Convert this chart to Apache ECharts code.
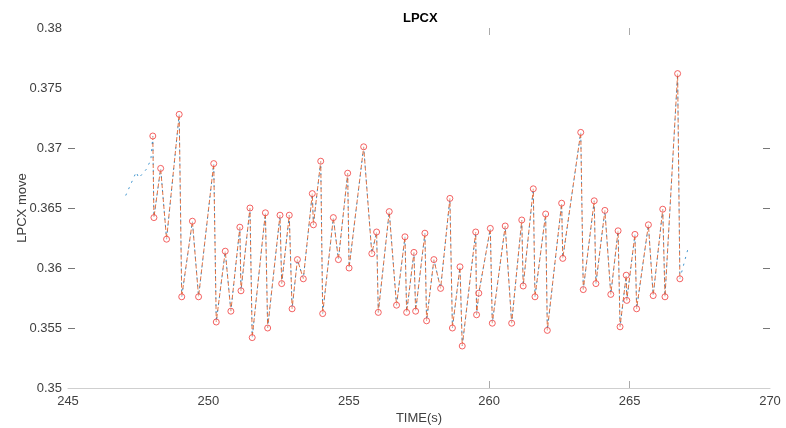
<!DOCTYPE html>
<html>
<head>
<meta charset="utf-8">
<script src="https://cdn.jsdelivr.net/npm/echarts@6/dist/echarts.min.js"></script>
<style>html,body{margin:0;padding:0;background:#fff}#c{width:786px;height:428px}</style>
</head>
<body>
<div id="c"></div>
<script>
// Extremes (marked points) of the LPCX signal
const peakTimes = [248.02,248.06,248.30,248.51,248.96,249.05,249.43,249.65,250.19,250.28,250.60,250.80,251.12,251.16,251.48,251.56,252.03,252.11,252.55,252.61,252.88,252.98,253.17,253.38,253.70,253.74,254.00,254.07,254.45,254.63,254.96,255.01,255.53,255.82,255.99,256.05,256.44,256.70,257.00,257.06,257.32,257.38,257.71,257.77,258.03,258.27,258.60,258.69,258.96,259.04,259.52,259.55,259.63,260.04,260.11,260.57,260.80,261.16,261.21,261.57,261.63,262.01,262.07,262.58,262.62,263.26,263.35,263.74,263.80,264.12,264.33,264.59,264.66,264.88,264.90,265.19,265.25,265.67,265.84,266.18,266.26,266.71,266.79];
const peakValues = [0.3710,0.3642,0.3683,0.3624,0.3728,0.3576,0.3639,0.3576,0.3687,0.3555,0.3614,0.3564,0.3634,0.3581,0.3650,0.3542,0.3646,0.3550,0.3644,0.3587,0.3644,0.3566,0.3607,0.3591,0.3662,0.3636,0.3689,0.3562,0.3642,0.3607,0.3679,0.3600,0.3701,0.3612,0.3630,0.3563,0.3647,0.3569,0.3626,0.3563,0.3613,0.3564,0.3629,0.3556,0.3607,0.3583,0.3658,0.3550,0.3601,0.3535,0.3630,0.3561,0.3579,0.3633,0.3554,0.3635,0.3554,0.3640,0.3585,0.3666,0.3576,0.3645,0.3548,0.3654,0.3608,0.3713,0.3582,0.3656,0.3587,0.3648,0.3578,0.3631,0.3551,0.3594,0.3573,0.3628,0.3566,0.3636,0.3577,0.3649,0.3576,0.3762,0.3591];
// Blue signal lead-in / lead-out (no markers)
const leadInTimes = [246.99,247.20,247.43,247.52,247.78,247.95];
const leadInValues = [0.3657,0.3668,0.3680,0.3675,0.3682,0.3690];
const leadOutTimes = [267.09];
const leadOutValues = [0.3617];
// Axis ticks
const xTicks = [260,265];
const yTicks = [0.355,0.36,0.365,0.37];

const zip = (a,b) => a.map((t,i)=>[t,b[i]]);
const orangeData = zip(peakTimes, peakValues);
const blueData = zip(leadInTimes, leadInValues).concat(orangeData, zip(leadOutTimes, leadOutValues));

const chart = echarts.init(document.getElementById('c'), null, {renderer:'canvas'});
const font = 'Liberation Sans, Arial, Helvetica, sans-serif';
chart.setOption({
  animation:false,
  backgroundColor:'#fff',
  title:{text:'LPCX', left:398, top:7, textStyle:{fontFamily:font, fontSize:13, fontWeight:'bold', color:'#000'}},
  grid:{left:68, right:16, top:28, bottom:40, containLabel:false, outerBoundsMode:'none'},
  xAxis:[{
    type:'value', min:245, max:270, interval:5, position:'bottom',
    name:'TIME(s)', nameLocation:'middle', nameGap:24, nameMoveOverlap:false,
    nameTextStyle:{fontFamily:font, fontSize:13, color:'#404040'},
    axisLine:{show:true, lineStyle:{color:'#cfcfcf', width:1}},
    axisTick:{show:true, inside:true, length:7, customValues:xTicks, lineStyle:{color:'#aaa'}},
    axisLabel:{fontFamily:font, fontSize:13, color:'#404040', margin:7},
    splitLine:{show:false}
  },{
    type:'value', min:245, max:270, interval:5, position:'top',
    axisLine:{show:false},
    axisTick:{show:true, inside:true, length:7, customValues:xTicks, lineStyle:{color:'#aaa'}},
    axisLabel:{show:false}, splitLine:{show:false}
  }],
  yAxis:[{
    type:'value', min:0.35, max:0.38, interval:0.005, position:'left',
    name:'LPCX move', nameLocation:'middle', nameGap:39, nameMoveOverlap:false,
    nameTextStyle:{fontFamily:font, fontSize:13, color:'#404040'},
    axisLine:{show:false},
    axisTick:{show:true, inside:true, length:7, customValues:yTicks, lineStyle:{color:'#777'}},
    axisLabel:{fontFamily:font, fontSize:13, color:'#404040', margin:6},
    splitLine:{show:false}
  },{
    type:'value', min:0.35, max:0.38, interval:0.005, position:'right',
    axisLine:{show:false},
    axisTick:{show:true, inside:true, length:7, customValues:yTicks, lineStyle:{color:'#777'}},
    axisLabel:{show:false}, splitLine:{show:false}
  }],
  series:[{
    type:'line', name:'signal', data:blueData, xAxisIndex:0, yAxisIndex:0,
    showSymbol:false, symbol:'none',
    lineStyle:{color:'#0072BD', width:1, type:[2,5], dashOffset:-4.5, opacity:0.75}
  },{
    type:'line', name:'extremes', data:orangeData, xAxisIndex:0, yAxisIndex:0,
    symbol:'circle', symbolSize:6, showSymbol:true, showAllSymbol:true,
    itemStyle:{color:'rgba(255,255,255,0.6)', borderColor:'#f03c3c', borderWidth:1, opacity:0.8},
    lineStyle:{color:'#D95319', width:1, type:[4,3], opacity:0.8}
  }]
});
</script>
</body>
</html>
